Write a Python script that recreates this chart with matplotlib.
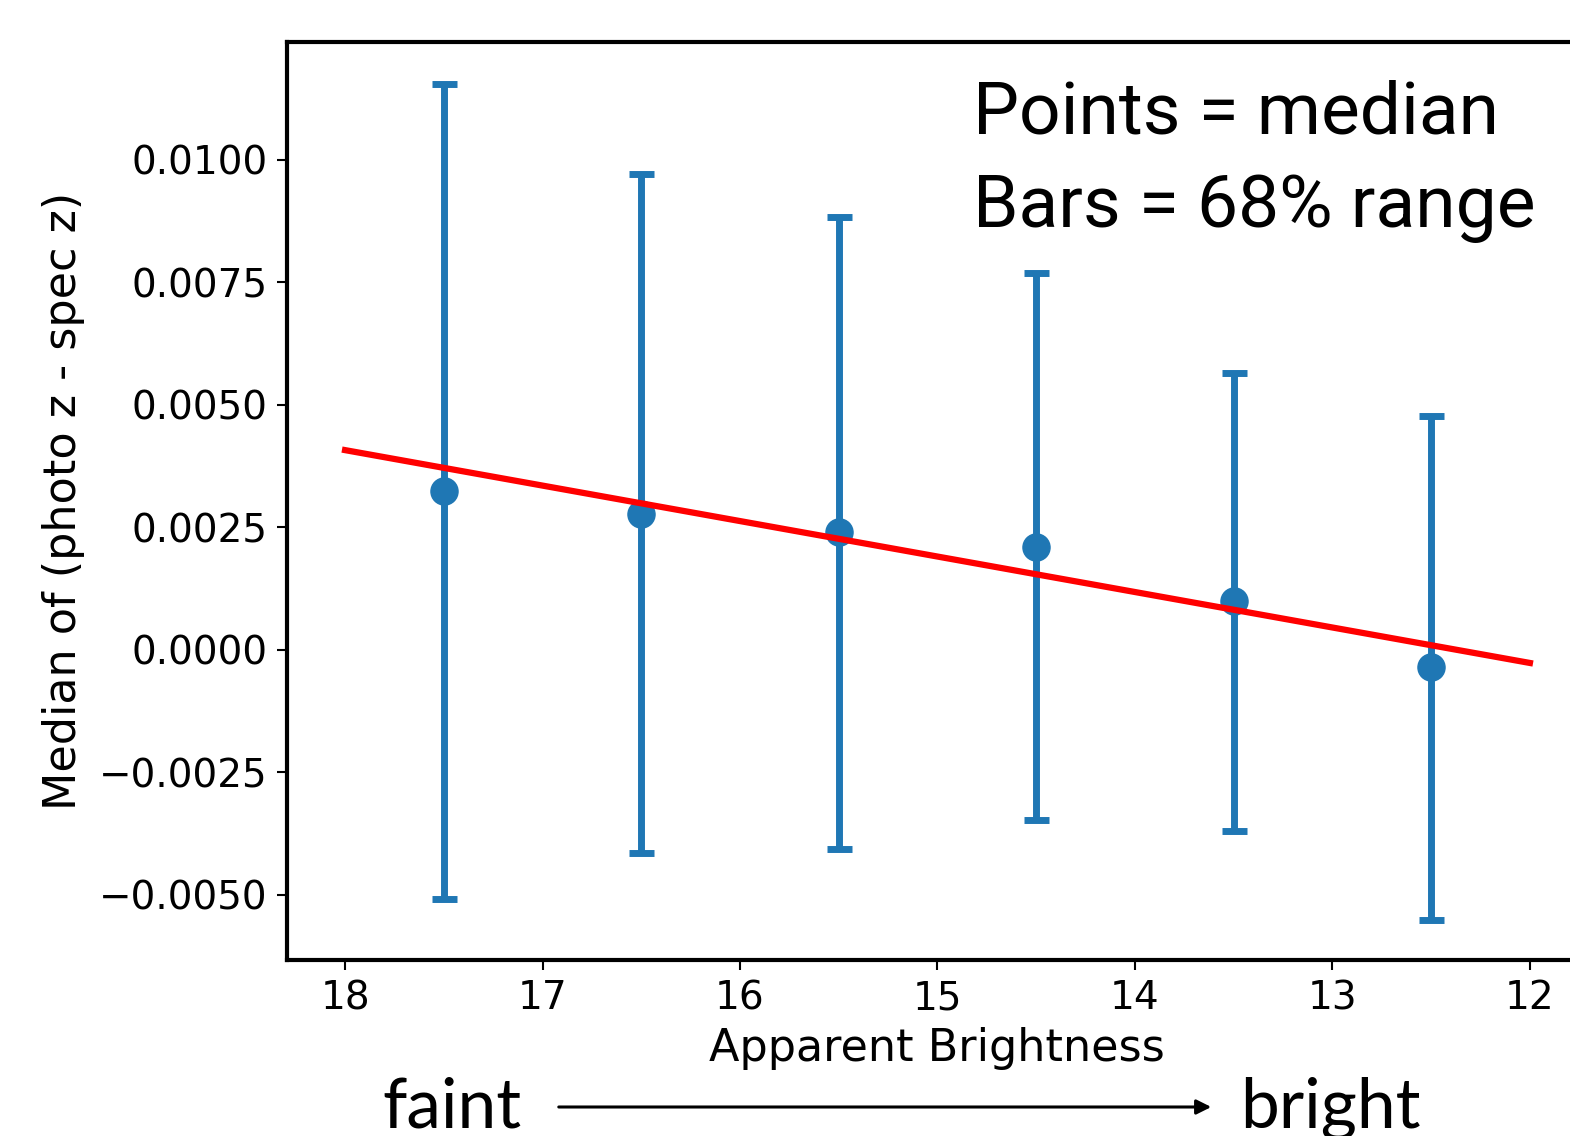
import numpy as np
import matplotlib
matplotlib.use('Agg')
import matplotlib.pyplot as plt

# binned apparent magnitude and photo-z minus spec-z statistics
mag = [17.5, 16.5, 15.5, 14.5, 13.5, 12.5]
median = [0.00325, 0.00277, 0.00240, 0.00211, 0.00099, -0.00035]
lo68 = [-0.00508, -0.00415, -0.00406, -0.00347, -0.00369, -0.00551]
hi68 = [0.01155, 0.00971, 0.00884, 0.00770, 0.00565, 0.00478]

# linear fit: median = slope * mag + intercept
fit_slope = 0.000724
fit_intercept = -0.008953
fit_range = [18, 12]

yticks = [-0.005, -0.0025, 0.0, 0.0025, 0.005, 0.0075, 0.01]
xticks = [18, 17, 16, 15, 14, 13, 12]

W, H = 1570, 1136
fig = plt.figure(figsize=(W / 100, H / 100), dpi=100)
ax = fig.add_axes([287 / W, 1 - 960 / H, (1586 - 287) / W, (960 - 42) / H])

med = np.array(median)
yerr = [med - np.array(lo68), np.array(hi68) - med]
ax.errorbar(mag, med, yerr=yerr, fmt='o', color='#1f77b4', ms=19.5,
            elinewidth=5, capsize=9, capthick=5, zorder=2)

xf = np.array(fit_range, dtype=float)
ax.plot(xf, fit_slope * xf + fit_intercept, color='red', lw=4.5, zorder=3)

ax.set_xlim(18.294, 11.716)
ax.set_ylim(-0.006327, 0.012408)
ax.set_xticks(xticks)
ax.set_yticks(yticks)
ax.set_yticklabels(['{:.4f}'.format(v).replace('-', '\u2212') for v in yticks])

for s in ax.spines.values():
    s.set_linewidth(3)
ax.spines['right'].set_visible(False)
ax.tick_params(labelsize=28, length=7, width=1.5, pad=7)

ax.set_xlabel('Apparent Brightness', fontsize=32, labelpad=7)
ax.set_ylabel('Median of (photo z - spec z)', fontsize=32, labelpad=10)

fig.text(973 / W, 1 - 134 / H, 'Points = median', fontsize=52.7,
         family='Roboto', va='baseline', ha='left')
fig.text(973 / W, 1 - 227 / H, 'Bars = 68% range', fontsize=52.7,
         family='Roboto', va='baseline', ha='left')

fig.text(382 / W, 1 - 1127 / H, 'faint', fontsize=50, family='Lato',
         va='baseline', ha='left')
fig.text(1240 / W, 1 - 1127 / H, 'bright', fontsize=50, family='Lato',
         va='baseline', ha='left')
fig.add_artist(matplotlib.patches.FancyArrowPatch(
    (556 / W, 1 - 1107 / H), (1214 / W, 1 - 1107 / H),
    transform=fig.transFigure, arrowstyle='-|>', mutation_scale=22,
    lw=2.2, color='black'))

fig.savefig('out.png', dpi=100)
